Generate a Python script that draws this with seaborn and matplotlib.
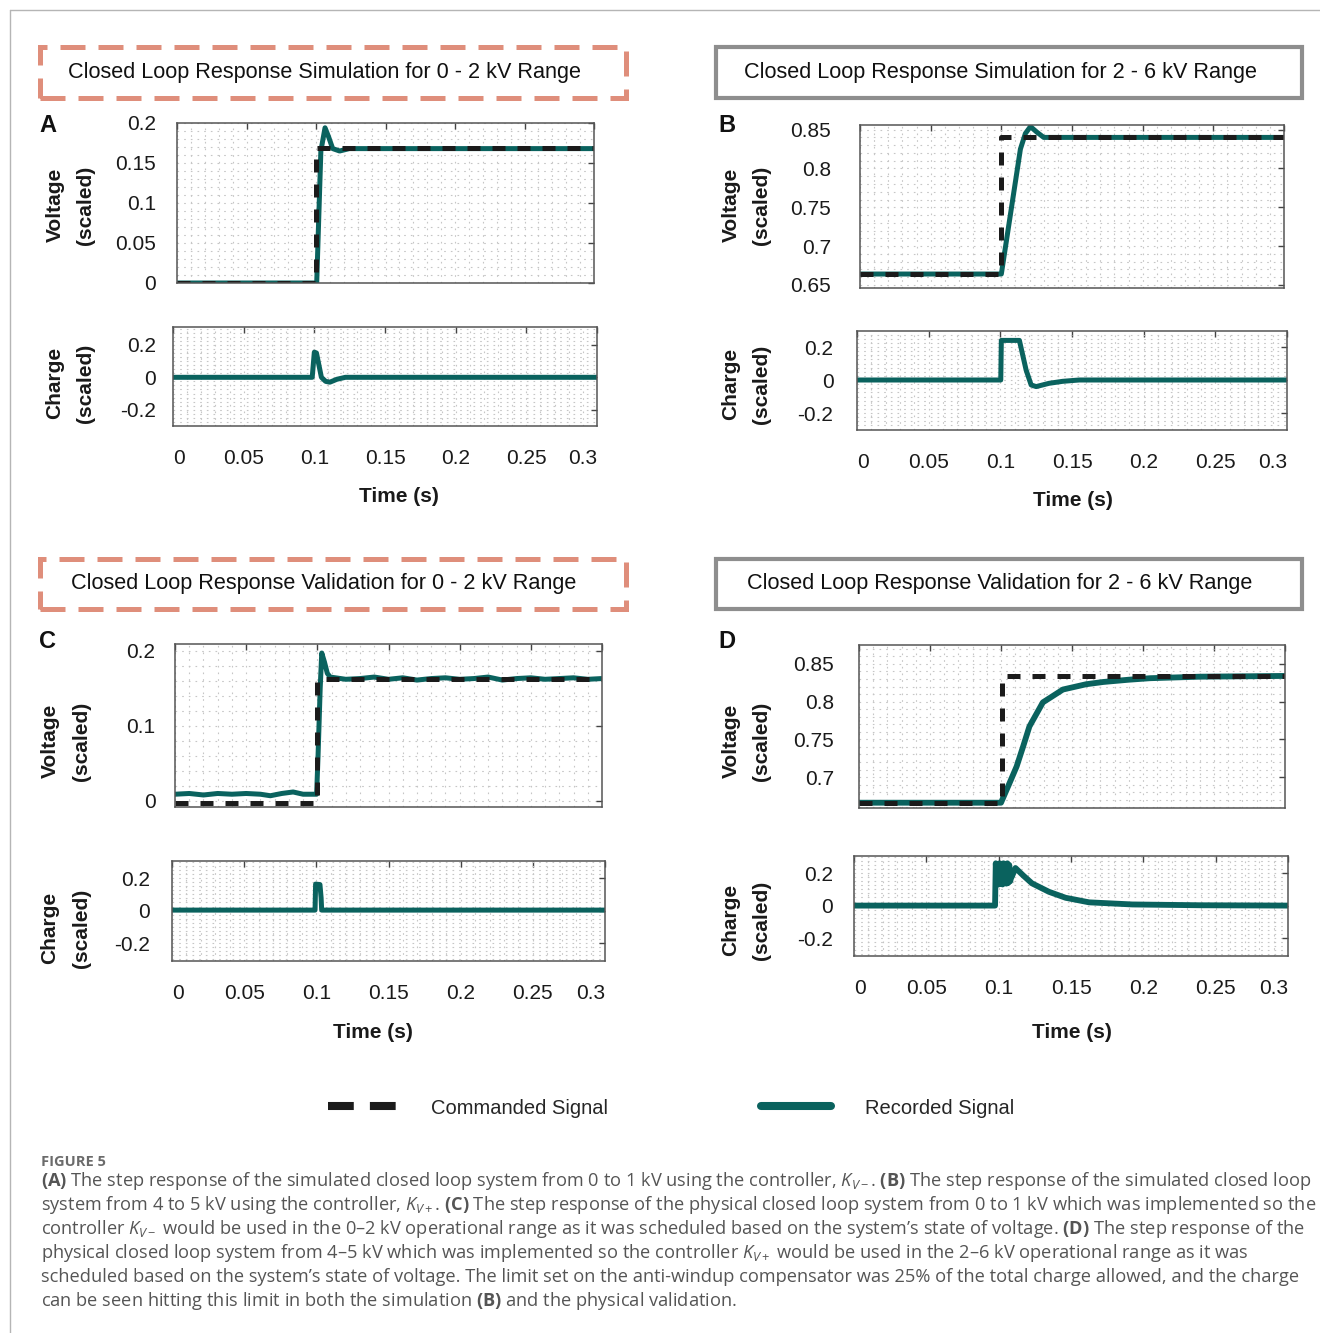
import numpy as np
import pandas as pd
import matplotlib
matplotlib.use('Agg')
import matplotlib.pyplot as plt
import matplotlib.ticker as mticker
from matplotlib.patches import Rectangle
from matplotlib.lines import Line2D
import seaborn as sns

# ---- data (time in s, values scaled) ----
# A: simulation 0-2 kV
a_cmd_t = [0, 0.1, 0.1, 0.3]
a_cmd_v = [0, 0, 0.169, 0.169]
a_rec_t = [0, 0.1005, 0.1035, 0.1065, 0.109, 0.112, 0.117, 0.124, 0.3]
a_rec_v = [0, 0, 0.165, 0.194, 0.183, 0.168, 0.165, 0.168, 0.168]
a_chg_t = [0, 0.0985, 0.1, 0.1015, 0.105, 0.108, 0.111, 0.116, 0.122, 0.3]
a_chg_v = [0, 0, 0.155, 0.15, 0.0, -0.025, -0.03, -0.012, 0, 0]

# B: simulation 2-6 kV
b_cmd_t = [0, 0.1, 0.1, 0.3]
b_cmd_v = [0.664, 0.664, 0.84, 0.84]
b_rec_t = [0, 0.1, 0.1135, 0.117, 0.1206, 0.125, 0.13, 0.3]
b_rec_v = [0.664, 0.664, 0.825, 0.845, 0.854, 0.847, 0.84, 0.84]
b_chg_t = [0, 0.1003, 0.1007, 0.1133, 0.118, 0.1215, 0.125, 0.134, 0.1435, 0.155, 0.3]
b_chg_v = [0, 0, 0.24, 0.24, 0.06, -0.03, -0.04, -0.02, -0.008, 0, 0]

# C: validation 0-2 kV
c_cmd_t = [0, 0.1, 0.1, 0.3]
c_cmd_v = [-0.003, -0.003, 0.163, 0.163]
c_rec_t = [0, 0.01, 0.02, 0.03, 0.04, 0.05, 0.06, 0.067, 0.075, 0.083, 0.09, 0.0995,
           0.1005, 0.102, 0.1031, 0.105, 0.107, 0.109,
           0.12, 0.13, 0.14, 0.15, 0.16, 0.17, 0.18, 0.19, 0.2, 0.21,
           0.22, 0.23, 0.24, 0.25, 0.26, 0.27, 0.28, 0.29, 0.3]
c_rec_v = [0.009, 0.010, 0.008, 0.010, 0.009, 0.010, 0.009, 0.007, 0.010, 0.012, 0.009, 0.009,
           0.06, 0.15, 0.197, 0.185, 0.17, 0.165,
           0.162, 0.163, 0.165, 0.162, 0.164, 0.161, 0.163, 0.164, 0.162, 0.163,
           0.165, 0.161, 0.163, 0.164, 0.162, 0.163, 0.164, 0.162, 0.163]
c_chg_t = [0, 0.0991, 0.0995, 0.1025, 0.1033, 0.1037, 0.15, 0.3]
c_chg_v = [0.003, 0.003, 0.163, 0.16, 0.08, 0.003, 0.003, 0.003]

# D: validation 2-6 kV
d_cmd_t = [0, 0.1005, 0.1005, 0.3]
d_cmd_v = [0.666, 0.666, 0.834, 0.834]
d_rec_t = [0, 0.1, 0.106, 0.111, 0.1155, 0.12, 0.1295, 0.1345, 0.1436, 0.16, 0.172, 0.19,
           0.205, 0.24, 0.3]
d_rec_v = [0.666, 0.666, 0.692, 0.714, 0.74, 0.767, 0.799, 0.805, 0.816, 0.823, 0.826, 0.829,
           0.831, 0.833, 0.834]
d_chg_t = [0, 0.0975, 0.098, 0.0987, 0.0993, 0.1, 0.1007, 0.1013, 0.102, 0.1027, 0.1033,
           0.104, 0.1047, 0.1053, 0.106, 0.1067, 0.1073, 0.108, 0.1088, 0.109, 0.1116,
           0.117, 0.123, 0.1347, 0.1463, 0.1625, 0.1924, 0.24, 0.3]
d_chg_v = [0, 0, 0.26, 0.14, 0.255, 0.13, 0.26, 0.15, 0.25, 0.13, 0.26,
           0.14, 0.255, 0.135, 0.26, 0.14, 0.25, 0.15, 0.2, 0.176, 0.231,
           0.185, 0.137, 0.085, 0.048, 0.02, 0.007, 0.002, 0.0]

titles = ['Closed Loop Response Simulation for 0 - 2 kV Range',
          'Closed Loop Response Simulation for 2 - 6 kV Range',
          'Closed Loop Response Validation for 0 - 2 kV Range',
          'Closed Loop Response Validation for 2 - 6 kV Range']
xticks = [0, 0.05, 0.1, 0.15, 0.2, 0.25, 0.3]

caption = [
    r'$\mathbf{(A)}$ The step response of the simulated closed loop system from 0 to 1 kV using the controller, $K_{V-}$. $\mathbf{(B)}$ The step response of the simulated closed loop',
    r'system from 4 to 5 kV using the controller, $K_{V+}$. $\mathbf{(C)}$ The step response of the physical closed loop system from 0 to 1 kV which was implemented so the',
    r'controller $K_{V-}$ would be used in the 0–2 kV operational range as it was scheduled based on the system’s state of voltage. $\mathbf{(D)}$ The step response of the',
    r'physical closed loop system from 4–5 kV which was implemented so the controller $K_{V+}$ would be used in the 2–6 kV operational range as it was',
    'scheduled based on the system’s state of voltage. The limit set on the anti-windup compensator was 25% of the total charge allowed, and the charge',
    r'can be seen hitting this limit in both the simulation $\mathbf{(B)}$ and the physical validation.',
]

TEAL = '#0a625e'
CMD = '#1b1b1b'
SALMON = '#df8e7b'
BOXGRAY = '#8e8e8e'

sns.set_style('white')
plt.rcParams['font.family'] = ['Liberation Sans', 'DejaVu Sans']
plt.rcParams['mathtext.fontset'] = 'custom'
plt.rcParams['mathtext.rm'] = 'Open Sans'
plt.rcParams['mathtext.it'] = 'Open Sans:italic'
plt.rcParams['mathtext.bf'] = 'Open Sans:bold'

W, H = 1320, 1333
fig = plt.figure(figsize=(W / 100, H / 100), dpi=100)


def frame(l, t, r, b):
    return [l / W, 1 - b / H, (r - l) / W, (b - t) / H]


def ftext(x, y, s, **kw):
    return fig.text(x / W, 1 - y / H, s, **kw)


def style(ax, ylim, yticks, ypad, yminor, show_x):
    ax.set_xlim(0, 0.3)
    ax.set_ylim(*ylim)
    ax.set_xticks(xticks)
    ax.set_yticks(yticks)
    ax.xaxis.set_minor_locator(mticker.AutoMinorLocator(5))
    ax.yaxis.set_minor_locator(mticker.AutoMinorLocator(yminor))
    ax.yaxis.set_major_formatter(mticker.FormatStrFormatter('%g'))
    ax.xaxis.set_major_formatter(mticker.FormatStrFormatter('%g'))
    ax.grid(True, which='both', color='#c6c6c6', linestyle=(0, (1.5, 4.5)), linewidth=0.8)
    ax.tick_params(which='major', direction='in', length=4, width=1, color='#444444',
                   top=True, right=True, labelsize=15, colors='#444444',
                   labelcolor='#1a1a1a')
    ax.tick_params(axis='y', pad=ypad)
    ax.tick_params(axis='x', pad=16.5, labelbottom=show_x)
    ax.tick_params(which='minor', length=0)
    for sp in ax.spines.values():
        sp.set_color('#555555')
        sp.set_linewidth(1.1)
    ax.set_xlabel('')
    ax.set_ylabel('')
    if show_x:
        labs = ax.get_xticklabels()
        labs[0].set_horizontalalignment('left')
        labs[-1].set_horizontalalignment('right')


def draw_voltage(ax, ct, cv, rt, rv, lw=3.6):
    sns.lineplot(x=rt, y=rv, ax=ax, color=TEAL, linewidth=lw, estimator=None, sort=False)
    sns.lineplot(x=ct, y=cv, ax=ax, color=CMD, linewidth=3.6, estimator=None, sort=False,
                 linestyle=(0, (2.6, 2.4)))


def draw_charge(ax, t, v, lw=3.6):
    sns.lineplot(x=t, y=v, ax=ax, color=TEAL, linewidth=lw, estimator=None, sort=False)


# axes
axA = fig.add_axes(frame(177, 123, 594, 283))
axAc = fig.add_axes(frame(173, 327, 597, 426))
axB = fig.add_axes(frame(860, 125, 1284, 288))
axBc = fig.add_axes(frame(857, 331, 1287, 430))
axC = fig.add_axes(frame(175, 644, 602, 807))
axCc = fig.add_axes(frame(172, 861, 605, 961))
axD = fig.add_axes(frame(859, 645, 1285, 808))
axDc = fig.add_axes(frame(854, 856, 1288, 956))

draw_voltage(axA, a_cmd_t, a_cmd_v, a_rec_t, a_rec_v)
draw_charge(axAc, a_chg_t, a_chg_v)
draw_voltage(axB, b_cmd_t, b_cmd_v, b_rec_t, b_rec_v)
draw_charge(axBc, b_chg_t, b_chg_v)
draw_voltage(axC, c_cmd_t, c_cmd_v, c_rec_t, c_rec_v)
draw_charge(axCc, c_chg_t, c_chg_v)
draw_voltage(axD, d_cmd_t, d_cmd_v, d_rec_t, d_rec_v, lw=4.2)
draw_charge(axDc, d_chg_t, d_chg_v, lw=4.2)

style(axA, (0, 0.2), [0, 0.05, 0.1, 0.15, 0.2], 15, 5, False)
style(axAc, (-0.3, 0.31), [-0.2, 0, 0.2], 12, 8, True)
style(axB, (0.646, 0.856), [0.65, 0.7, 0.75, 0.8, 0.85], 21, 5, False)
style(axBc, (-0.303, 0.297), [-0.2, 0, 0.2], 17, 8, True)
style(axC, (-0.008, 0.209), [0, 0.1, 0.2], 14, 5, False)
style(axCc, (-0.31, 0.305), [-0.2, 0, 0.2], 16, 8, True)
style(axD, (0.659, 0.875), [0.7, 0.75, 0.8, 0.85], 18, 5, False)
style(axDc, (-0.31, 0.305), [-0.2, 0, 0.2], 15, 8, True)

# axis labels and panel letters
lab = dict(fontsize=15, fontweight='bold', rotation=90, ha='center', va='center', color='#1a1a1a')
for x0, yv, yc in [(55, 205, 383), (731, 205, 384), (50, 741, 928), (731, 741, 920)]:
    ftext(x0, yv, 'Voltage', **lab)
    ftext(x0 + 31, yv, '(scaled)', **lab)
    ftext(x0, yc, 'Charge', **lab)
    ftext(x0 + 31, yc, '(scaled)', **lab)

tl = dict(fontsize=15, fontweight='bold', ha='center', va='center', color='#1a1a1a')
ftext(399, 497, 'Time (s)', **tl)
ftext(1073, 500, 'Time (s)', **tl)
ftext(373, 1033, 'Time (s)', **tl)
ftext(1072, 1032, 'Time (s)', **tl)

pl = dict(fontsize=17, fontweight='bold', ha='center', va='center', color='#111111')
ftext(48, 125, 'A', **pl)
ftext(727, 125, 'B', **pl)
ftext(48, 642, 'C', **pl)
ftext(727, 642, 'D', **pl)

# title boxes
boxes = [(40, 47, 626, 98, 'dash'), (716, 47, 1302, 98, 'solid'),
         (40, 559, 626, 609, 'dash'), (716, 559, 1302, 609, 'solid')]
for (x0, y0, x1, y1, kind), title in zip(boxes, titles):
    if kind == 'dash':
        r = Rectangle((x0 / W, 1 - y1 / H), (x1 - x0) / W, (y1 - y0) / H, transform=fig.transFigure,
                      fill=False, edgecolor=SALMON, linewidth=3.6, linestyle=(0, (5, 2.6)))
    else:
        r = Rectangle((x0 / W, 1 - y1 / H), (x1 - x0) / W, (y1 - y0) / H, transform=fig.transFigure,
                      fill=False, edgecolor=BOXGRAY, linewidth=3)
    fig.add_artist(r)
    ftext((x0 + x1) / 2 - 9, (y0 + y1) / 2, title, fontsize=15.6, ha='center', va='center',
          color='#111111')

# legend
handles = [Line2D([], [], color=CMD, linewidth=5.8, linestyle=(0, (3.2, 2.0))),
           Line2D([], [], color=TEAL, linewidth=5.8)]
fig.legend(handles, ['Commanded Signal', 'Recorded Signal'], loc='center',
           bbox_to_anchor=(671 / W, 1 - 1108 / H), ncol=2, frameon=False, fontsize=14.5,
           handlelength=3.45, handletextpad=1.7, columnspacing=7.6, borderpad=0)

# outer border of the page
fig.add_artist(Line2D([10 / W, 10 / W], [0, 1 - 10 / H], transform=fig.transFigure,
                      color='#b5b5b5', linewidth=1))
fig.add_artist(Line2D([10 / W, 1], [1 - 10 / H, 1 - 10 / H], transform=fig.transFigure,
                      color='#b5b5b5', linewidth=1))

# caption
ftext(41, 1166, 'FIGURE 5', fontsize=10.5, fontweight='bold', family=['Open Sans'],
      color='#6b6b6b', ha='left', va='baseline')
for i, line in enumerate(caption):
    ftext(41, 1186 + 24 * i, line, fontsize=13.15, family=['Open Sans'], color='#555555',
          ha='left', va='baseline')

fig.savefig('out.png', dpi=100)
